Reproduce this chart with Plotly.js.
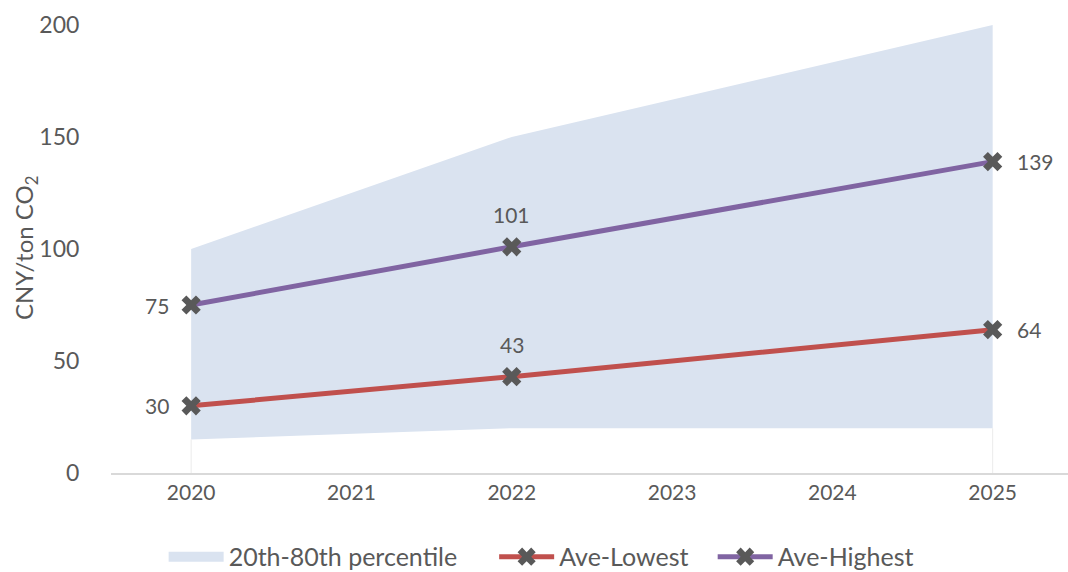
<!DOCTYPE html>
<html>
<head>
<meta charset="utf-8">
<script src="https://cdn.plot.ly/plotly-3.0.1.min.js"></script>
<style>html,body{margin:0;padding:0;background:#fff;}#chart{width:1068px;height:572px;}</style>
</head>
<body>
<div id="chart"></div>
<script>
const years = [2020, 2022, 2025];
const tickYears = [2020, 2021, 2022, 2023, 2024, 2025];
const bandLow = [15, 20, 20];
const bandHigh = [100, 150, 200];
const aveLowest = [30, 43, 64];
const aveHighest = [75, 101, 139];
const labelSide = ['left', 'top', 'right'];
const yTitle = 'CNY/ton CO<sub>2</sub>';

const font = 'Lato, "Open Sans", sans-serif';
const txt = '#595959';
const pad5 = '\u00a0\u00a0\u00a0\u00a0\u00a0';
const pad3 = '\u00a0\u00a0\u00a0';

const bandX = years.concat(years.slice().reverse());
const bandY = bandLow.concat(bandHigh.slice().reverse());

const traces = [
  {x: bandX, y: bandY, type: 'scatter', mode: 'lines', fill: 'toself', fillcolor: '#DAE3F0',
   line: {width: 0, color: '#DAE3F0'}, showlegend: false, hoverinfo: 'skip'},
  {x: [null], y: [null], type: 'scatter', mode: 'lines', line: {width: 18, color: '#DAE3F0'},
   name: '20th-80th percentile' + pad5},
  {x: [years[0], years[0], null, years[years.length-1], years[years.length-1]],
   y: [0, bandLow[0], null, 0, bandLow[bandLow.length-1]], type: 'scatter', mode: 'lines',
   line: {width: 1, color: '#EBEBEB'}, showlegend: false, hoverinfo: 'skip'},
  {x: years, y: aveLowest, type: 'scatter', mode: 'lines+markers', name: 'Ave-Lowest' + pad3,
   line: {color: '#C0504D', width: 5},
   marker: {symbol: 'x', size: 17, color: '#595959', line: {width: 0}}},
  {x: years, y: aveHighest, type: 'scatter', mode: 'lines+markers', name: 'Ave-Highest',
   line: {color: '#8064A2', width: 5},
   marker: {symbol: 'x', size: 17, color: '#595959', line: {width: 0}}}
];

function labelAnn(xs, ys) {
  return xs.map((x, i) => {
    const side = labelSide[i];
    const a = {x: x, y: ys[i], xref: 'x', yref: 'y', text: String(ys[i]), showarrow: false,
      font: {family: font, size: 21, color: txt}};
    if (side === 'left') { a.xanchor = 'right'; a.yanchor = 'middle'; a.xshift = -20; }
    else if (side === 'right') { a.xanchor = 'left'; a.yanchor = 'middle'; a.xshift = 22; }
    else { a.xanchor = 'center'; a.yanchor = 'bottom'; a.yshift = 18; }
    return a;
  });
}

const titleAnn = {text: yTitle, xref: 'paper', yref: 'paper', x: -0.0899, y: 0.502,
  xanchor: 'center', yanchor: 'middle', textangle: -90, showarrow: false,
  font: {family: font, size: 24, color: txt}};

const layout = {
  width: 1068, height: 572,
  margin: {l: 111, r: 0, t: 25, b: 99, autoexpand: false},
  paper_bgcolor: '#fff', plot_bgcolor: '#fff',
  font: {family: font, color: txt},
  xaxis: {
    range: [2019.5, 2025.47], tickvals: tickYears, ticktext: tickYears.map(String),
    showgrid: false, zeroline: false, showline: true, linecolor: '#D9D9D9', linewidth: 2,
    ticks: '', tickfont: {family: font, size: 21, color: txt}
  },
  yaxis: {
    range: [0, 200], tickvals: [0, 50, 100, 150, 200], showgrid: false, zeroline: false,
    showline: false, ticks: 'outside', ticklen: 26, tickcolor: 'rgba(0,0,0,0)',
    tickfont: {family: font, size: 23, color: txt}
  },
  annotations: labelAnn(years, aveLowest).concat(labelAnn(years, aveHighest), [titleAnn]),
  showlegend: true,
  legend: {orientation: 'h', x: 0.055, xanchor: 'left', y: -0.136, yanchor: 'top',
    font: {family: font, size: 25, color: txt}, itemwidth: 55, traceorder: 'normal'}
};

Plotly.newPlot('chart', traces, layout, {displayModeBar: false, staticPlot: true});
</script>
</body>
</html>
